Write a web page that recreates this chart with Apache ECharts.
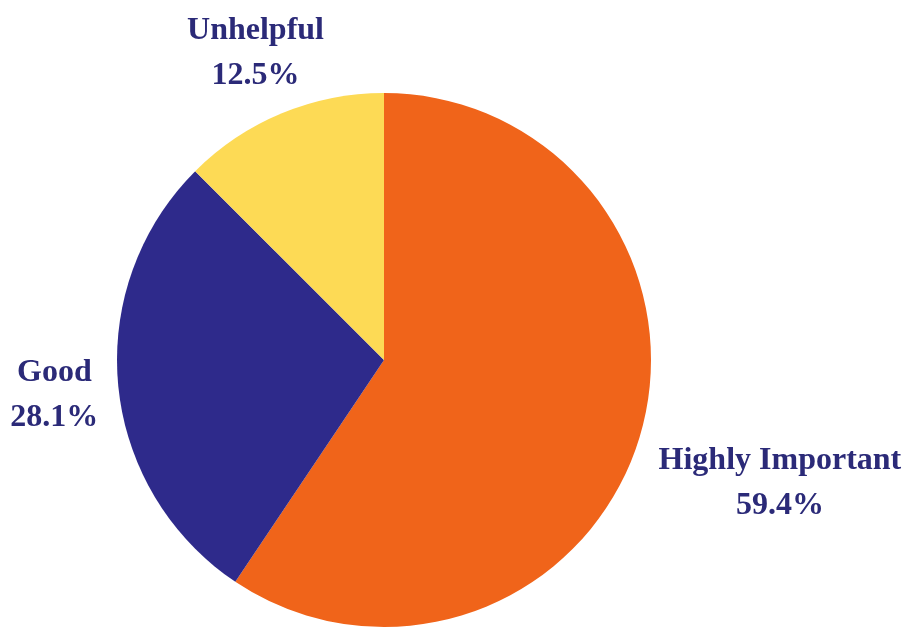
<!DOCTYPE html>
<html>
<head>
<meta charset="utf-8">
<script src="https://cdn.jsdelivr.net/npm/echarts@6/dist/echarts.min.js"></script>
<style>html,body{margin:0;padding:0;background:#fff}#c{width:906px;height:628px}</style>
</head>
<body>
<div id="c"></div>
<script>
const categories = ['Highly Important', 'Good', 'Unhelpful'];
const values = [59.4, 28.1, 12.5];
const colors = ['#F0641A', '#2E2A8B', '#FDDA55'];

const CX = 384, CY = 360, R = 267, GAP = 20;
const total = values.reduce((a, b) => a + b, 0);
const midAngles = [];
let acc = 0;
values.forEach(v => {
  const start = 90 - acc / total * 360;
  const end = 90 - (acc + v) / total * 360;
  midAngles.push((start + end) / 2 * Math.PI / 180);
  acc += v;
});

const chart = echarts.init(document.getElementById('c'));
chart.setOption({
  animation: false,
  backgroundColor: '#ffffff',
  series: [{
    type: 'pie',
    center: [CX, CY],
    radius: R,
    startAngle: 90,
    clockwise: true,
    data: categories.map((n, i) => ({ name: n, value: values[i], itemStyle: { color: colors[i] } })),
    itemStyle: { borderWidth: 0 },
    emphasis: { disabled: true },
    labelLine: { show: false },
    label: {
      show: true,
      position: 'outside',
      overflow: 'none',
      formatter: p => p.name + '\n' + p.value.toFixed(1) + '%',
      fontFamily: '"Liberation Serif", "DejaVu Serif", serif',
      fontWeight: 'bold',
      fontSize: 32,
      lineHeight: 45,
      color: '#2B2A78',
      align: 'center'
    },
    labelLayout: function (p) {
      const a = midAngles[p.dataIndex];
      const dx = Math.cos(a), dy = -Math.sin(a);
      const hw = p.labelRect.width / 2, hh = p.labelRect.height / 2;
      const t = Math.min(Math.abs(dx) > 1e-6 ? hw / Math.abs(dx) : 1e9, Math.abs(dy) > 1e-6 ? hh / Math.abs(dy) : 1e9);
      const d = R + GAP + t;
      return { x: CX + dx * d, y: CY + dy * d + 3, align: 'center', verticalAlign: 'middle' };
    }
  }]
});
</script>
</body>
</html>
